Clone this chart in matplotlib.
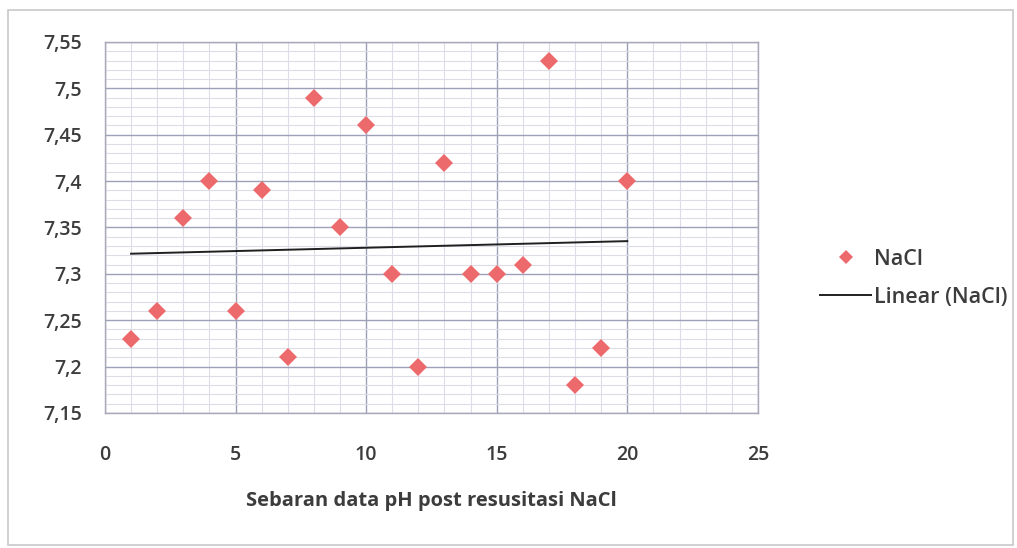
import numpy as np
import matplotlib.pyplot as plt
from matplotlib.ticker import MultipleLocator, FuncFormatter
from matplotlib.lines import Line2D
from matplotlib.patches import Rectangle

plt.rcParams['font.family'] = ['Open Sans', 'DejaVu Sans']

# pH post resusitasi NaCl, one value per patient
pasien = np.arange(1, 21)
ph_nacl = [7.23, 7.26, 7.36, 7.40, 7.26, 7.39, 7.21, 7.49, 7.35, 7.46,
           7.30, 7.20, 7.42, 7.30, 7.30, 7.31, 7.53, 7.18, 7.22, 7.40]

# linear trend, same as the Excel trendline
slope, intercept = np.polyfit(pasien, ph_nacl, 1)
trend_x = np.array([pasien.min(), pasien.max()])
trend_y = slope * trend_x + intercept

marker_color = '#EC6A6C'
text_color = '#3C3C3C'

fig = plt.figure(figsize=(10.17, 5.48), dpi=100)
fig.patch.set_facecolor('white')
# chart border
fig.patches.append(Rectangle((0.008, 0.006), 0.988, 0.975, transform=fig.transFigure,
                             fill=False, edgecolor='#C8C8C8', linewidth=1.2))

ax = fig.add_axes([0.1032, 0.2464, 0.642, 0.677])
ax.plot(pasien, ph_nacl, linestyle='none', marker='D', markersize=9.5,
        color=marker_color, markeredgewidth=0, zorder=3)
ax.plot(trend_x, trend_y, color='#202020', linewidth=1.4, zorder=2)

ax.set_xlim(0, 25)
ax.set_ylim(7.15, 7.55)
ax.xaxis.set_major_locator(MultipleLocator(5))
ax.xaxis.set_minor_locator(MultipleLocator(1))
ax.yaxis.set_major_locator(MultipleLocator(0.05))
ax.yaxis.set_minor_locator(MultipleLocator(0.01))

def koma(v, pos):
    s = ('%.2f' % v).rstrip('0').rstrip('.')
    return s.replace('.', ',')

ax.yaxis.set_major_formatter(FuncFormatter(koma))
ax.xaxis.set_major_formatter(FuncFormatter(lambda v, p: '%d' % round(v)))

ax.grid(which='major', color='#9EA0B8', linewidth=1.0)
ax.grid(which='minor', color='#DCDDE6', linewidth=0.8)
ax.set_axisbelow(True)
for side in ax.spines.values():
    side.set_color('#A8A8B8')
    side.set_linewidth(1.0)

ax.tick_params(which='both', length=0)
ax.tick_params(axis='y', labelsize=14, labelcolor=text_color, pad=16.5)
ax.tick_params(axis='x', labelsize=14, labelcolor=text_color, pad=23)
for lbl in ax.get_xticklabels() + ax.get_yticklabels():
    lbl.set_fontweight('semibold')
ax.set_xlabel('Sebaran data pH post resusitasi NaCl', fontsize=14.5,
              fontweight='bold', color=text_color, labelpad=19)

handles = [Line2D([], [], linestyle='none', marker='D', markersize=7,
                  color=marker_color, markeredgewidth=0),
           Line2D([], [], color='#202020', linewidth=1.4)]
leg = fig.legend(handles, ['NaCl', 'Linear (NaCl)'], loc='center left',
                 bbox_to_anchor=(0.787, 0.492), frameon=False, fontsize=15.5,
                 labelcolor=text_color, handlelength=2.4, handletextpad=0.1,
                 labelspacing=0.8)
for t in leg.get_texts():
    t.set_fontweight('semibold')

fig.savefig('out.png', dpi=100)
